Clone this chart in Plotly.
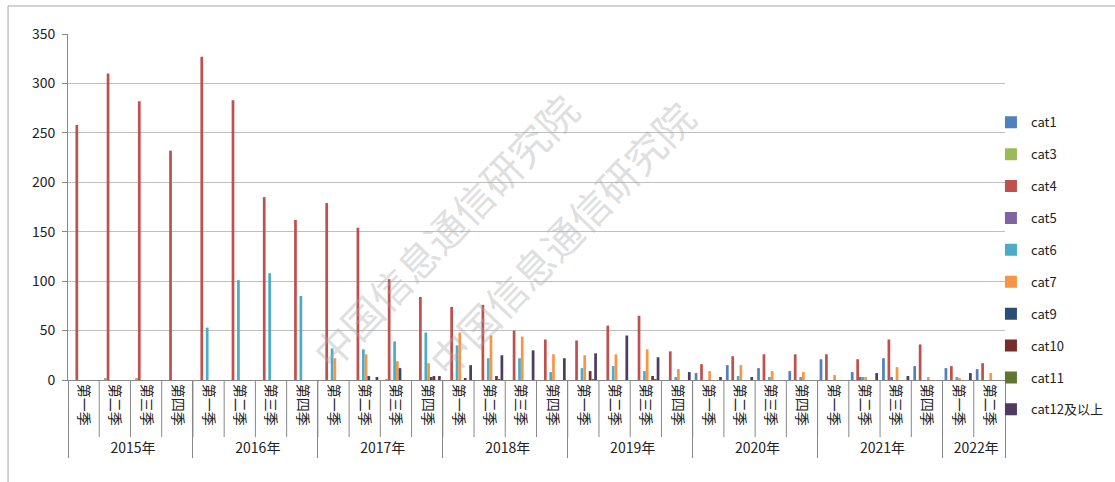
import plotly.graph_objects as go

years = ["2015年"] * 4 + ["2016年"] * 4 + ["2017年"] * 4 + ["2018年"] * 4 + \
        ["2019年"] * 4 + ["2020年"] * 4 + ["2021年"] * 4 + ["2022年"] * 2
quarters = ["第一季", "第二季", "第三季", "第四季"] * 7 + ["第一季", "第二季"]

cat1  = [0, 0, 0, 0,  0, 0, 0, 0,  0, 0, 0, 0,  0, 0, 0, 0,  0, 0, 0, 0,  7, 15, 12, 9,  21, 8, 22, 14,  12, 11]
cat3  = [0, 2, 2, 0,  0, 0, 0, 0,  0, 0, 1, 0,  0, 0, 0, 0,  0, 0, 0, 0,  0, 0, 0, 0,  0, 0, 0, 0,  0, 0]
cat4  = [258, 310, 282, 232,  327, 283, 185, 162,  179, 154, 102, 84,  74, 76, 50, 41,
         40, 55, 65, 29,  16, 24, 26, 26,  26, 21, 41, 36,  14, 17]
cat5  = [0, 0, 0, 0,  0, 0, 0, 0,  0, 0, 0, 0,  0, 0, 0, 0,  0, 0, 0, 0,  0, 0, 0, 0,  0, 3, 3, 0,  0, 0]
cat6  = [0, 0, 0, 0,  53, 101, 108, 85,  32, 31, 39, 48,  35, 22, 22, 8,  12, 14, 9, 3,  0, 4, 3, 3,  0, 3, 0, 0,  3, 0]
cat7  = [0, 0, 0, 0,  0, 0, 0, 0,  22, 26, 19, 17,  48, 45, 44, 26,  25, 26, 31, 11,  9, 15, 9, 8,  5, 3, 13, 3,  2, 7]
cat9  = [0, 0, 0, 0,  0, 0, 0, 0,  0, 4, 12, 3,  0, 0, 0, 0,  0, 0, 0, 0,  0, 0, 0, 0,  0, 0, 0, 0,  0, 0]
cat10 = [0, 0, 0, 0,  0, 0, 0, 0,  0, 0, 0, 4,  2, 4, 0, 0,  9, 0, 4, 0,  0, 0, 0, 0,  0, 0, 0, 0,  0, 0]
cat11 = [0, 0, 0, 0,  0, 0, 0, 0,  0, 0, 0, 0,  0, 1, 0, 0,  1, 0, 1, 0,  0, 0, 0, 0,  0, 0, 0, 0,  0, 0]
cat12 = [0, 0, 0, 0,  0, 0, 0, 0,  0, 3, 0, 4,  15, 25, 30, 22,  27, 45, 23, 8,  3, 3, 0, 0,  0, 7, 4, 0,  7, 0]

series_names = ["cat1", "cat3", "cat4", "cat5", "cat6", "cat7", "cat9", "cat10", "cat11", "cat12及以上"]
series_values = [cat1, cat3, cat4, cat5, cat6, cat7, cat9, cat10, cat11, cat12]
colors = ["#4F81BD", "#9BBB59", "#C0504D", "#8064A2", "#4BACC6",
          "#F79646", "#2C4D75", "#772C2A", "#5F7530", "#4D3B62"]

watermark = "中国信息通信研究院"

font_family = "Noto Sans CJK SC, Noto Sans, sans-serif"

fig = go.Figure()
for i, (name, vals, col) in enumerate(zip(series_names, series_values, colors)):
    fig.add_trace(go.Bar(
        x=[years, quarters], y=vals, name=name,
        marker=dict(color=col, line=dict(width=0)),
        legendgroup="g%d" % i,
    ))

# separators between quarter labels (derived from the number of categories)
n_cat = len(quarters)
shapes = []
for i in range(1, n_cat):
    shapes.append(dict(type="line", xref="x domain", yref="paper",
                       x0=i / n_cat, x1=i / n_cat, y0=0, y1=-0.165,
                       line=dict(color="#888888", width=1)))
shapes.append(dict(type="rect", xref="paper", yref="paper",
                   x0=-0.064, x1=1.3, y0=-0.5, y1=1.081,
                   line=dict(color="#A6A6A6", width=1), fillcolor="rgba(0,0,0,0)",
                   layer="below"))

annotations = [
    dict(text=watermark, xref="paper", yref="paper", x=0.402, y=0.43,
         showarrow=False, textangle=-46,
         font=dict(size=40, color="rgba(170,170,170,0.4)", family=font_family)),
    dict(text=watermark, xref="paper", yref="paper", x=0.685, y=0.41,
         showarrow=False, textangle=-46,
         font=dict(size=40, color="rgba(170,170,170,0.4)", family=font_family)),
]

fig.update_layout(
    width=1115, height=482,
    margin=dict(l=68, r=110, t=34, b=102, autoexpand=False),
    paper_bgcolor="white", plot_bgcolor="white",
    barmode="group", bargap=0.13, bargroupgap=0,
    font=dict(family=font_family, size=13, color="#222"),
    showlegend=True,
    legend=dict(x=0.985, xanchor="left", y=0.33, yanchor="middle",
                font=dict(size=13, color="#222"), tracegroupgap=12,
                itemwidth=30, bgcolor="rgba(0,0,0,0)"),
    xaxis=dict(
        type="multicategory",
        showgrid=False,
        showline=True, linecolor="#888888", linewidth=1,
        ticks="outside", ticklen=8, tickcolor="rgba(0,0,0,0)", tickangle=90,
        showdividers=True, dividercolor="#888888", dividerwidth=1,
        tickfont=dict(size=14, color="#222"),
        fixedrange=True,
    ),
    yaxis=dict(
        range=[0, 350], dtick=50, tick0=0,
        showgrid=True, gridcolor="#BFBFBF", gridwidth=1,
        showline=True, linecolor="#888888", linewidth=1,
        ticks="outside", ticklen=5, tickcolor="#888888",
        ticklabelstandoff=4,
        tickfont=dict(size=14, color="#222"),
        zeroline=False,
    ),
    shapes=shapes,
    annotations=annotations,
)

fig.write_html("out.html", config={"displayModeBar": False},
               post_script="document.body.style.margin='0px';")
